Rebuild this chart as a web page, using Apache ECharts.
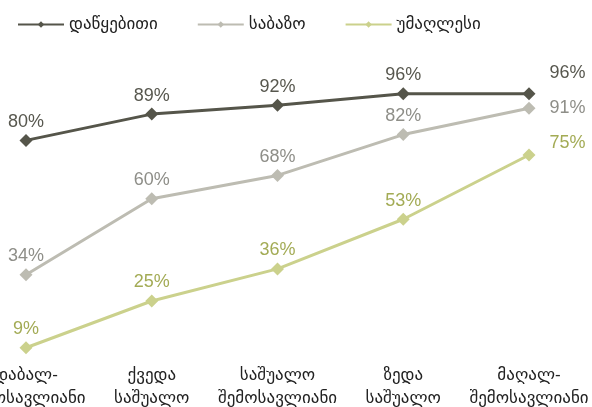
<!DOCTYPE html>
<html><head><meta charset="utf-8">
<script src="https://cdn.jsdelivr.net/npm/echarts@6/dist/echarts.min.js"></script>
<style>html,body{margin:0;padding:0;background:#fff}#c{width:592px;height:407px}</style>
</head><body><div id="c"></div>
<script>
const categories = ['დაბალ-\nშემოსავლიანი', 'ქვედა\nსაშუალო', 'საშუალო\nშემოსავლიანი', 'ზედა\nსაშუალო', 'მაღალ-\nშემოსავლიანი'];
const seriesNames = ['დაწყებითი', 'საბაზო', 'უმაღლესი'];
const primary = [80, 89, 92, 96, 96];
const basic = [34, 60, 68, 82, 91];
const higher = [9, 25, 36, 53, 75];
const lineColors = ['#55554a', '#bdbcb2', '#cbd18c'];
const labelColors = ['#57574e', '#8e8e88', '#a3ab55'];
const lastOffsets = [[0, -21], [0, 0], [0, -12]];
const font = '"Liberation Sans", Arial, "DejaVu Sans", sans-serif';

function mk(name, vals, i) {
  return {
    name: name, type: 'line', data: vals.map((v, j) => {
      if (j === vals.length - 1) {
        return { value: v, label: { position: 'right', distance: 14, offset: lastOffsets[i] } };
      }
      return v;
    }),
    symbol: 'diamond', symbolSize: 13,
    lineStyle: { color: lineColors[i], width: 3 },
    itemStyle: { color: lineColors[i] },
    label: { show: true, position: 'top', distance: 3, formatter: '{c}%', color: labelColors[i], fontSize: 18, fontFamily: font },
    emphasis: { disabled: true }, animation: false, z: 10 - i
  };
}

const chart = echarts.init(document.getElementById('c'));
chart.setOption({
  animation: false,
  legend: {
    top: 11, left: 12, itemWidth: 46, itemHeight: 8, itemGap: 39,
    textStyle: { fontSize: 17, color: '#222', fontFamily: font },
    data: seriesNames
  },
  grid: { left: 26, right: 63, top: 82, bottom: 33, containLabel: false, outerBoundsMode: 'none' },
  xAxis: {
    type: 'category', data: categories, boundaryGap: false,
    axisLine: { show: false }, axisTick: { show: false },
    axisLabel: { margin: -10, fontSize: 17, lineHeight: 23, color: '#222', fontFamily: font, interval: 0 }
  },
  yAxis: { type: 'value', min: 0, max: 100, show: false, splitLine: { show: false } },
  series: [mk(seriesNames[0], primary, 0), mk(seriesNames[1], basic, 1), mk(seriesNames[2], higher, 2)]
});
</script></body></html>
